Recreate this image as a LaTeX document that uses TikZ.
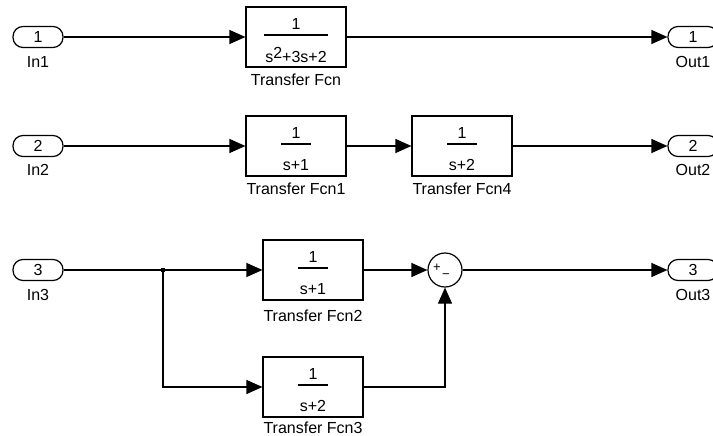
\documentclass[tikz,border=0pt]{standalone}
\usepackage{fontspec}
\setmainfont{Liberation Sans}
\usetikzlibrary{arrows.meta}
\begin{document}
\begin{tikzpicture}[x=1pt,y=-1pt,
  port/.style={draw, rounded corners=10pt, minimum width=50pt, minimum height=21pt, inner sep=0pt, line width=1.2pt, font=\fontsize{16}{18}\selectfont},
  tf/.style={draw, minimum width=100pt, minimum height=60pt, inner sep=0pt, line width=1.2pt},
  lbl/.style={inner sep=0pt, font=\fontsize{16}{18}\selectfont},
  frac/.style={inner sep=1.5pt, font=\fontsize{16}{18}\selectfont},
  sumc/.style={draw, circle, minimum size=34pt, inner sep=0pt, line width=1.2pt},
  sig/.style={line width=1.2pt, -{Triangle[length=16pt,width=14pt]}},
  wire/.style={line width=1.2pt}]
\useasboundingbox (0,0) rectangle (713,436);
\clip (0,0) rectangle (713,436);
% row 1
\node[port] (in1) at (38,37) {1};
\node[lbl] (in1l) at (38,62) {In1};
\node[tf] (t1) at (296,37) {};
\node[frac] (t1n) at (296,24) {1};
\node[frac] (t1d) at (296,55) {s\raisebox{0.45ex}{2}+3s+2};
\draw[wire] (t1d.west |- 0,35) -- (t1d.east |- 0,35);
\node[lbl] (t1l) at (296,80) {Transfer Fcn};
\node[port] (out1) at (693,37) {1};
\node[lbl] (out1l) at (693,62) {Out1};
\draw[sig] (in1) -- (t1);
\draw[sig] (t1) -- (out1);
% row 2
\node[port] (in2) at (38,146) {2};
\node[lbl] (in2l) at (38,170) {In2};
\node[tf] (t2) at (296,146) {};
\node[frac] (t2n) at (296,133) {1};
\node[frac] (t2d) at (296,165) {s+1};
\draw[wire] (t2d.west |- 0,144) -- (t2d.east |- 0,144);
\node[lbl] (t2l) at (296,189) {Transfer Fcn1};
\node[tf] (t4) at (462,146) {};
\node[frac] (t4n) at (462,133) {1};
\node[frac] (t4d) at (462,165) {s+2};
\draw[wire] (t4d.west |- 0,144) -- (t4d.east |- 0,144);
\node[lbl] (t4l) at (462,189) {Transfer Fcn4};
\node[port] (out2) at (693,146) {2};
\node[lbl] (out2l) at (693,170) {Out2};
\draw[sig] (in2) -- (t2);
\draw[sig] (t2) -- (t4);
\draw[sig] (t4) -- (out2);
% row 3
\node[port] (in3) at (38,270) {3};
\node[lbl] (in3l) at (38,295) {In3};
\coordinate (br) at (163,270);
\node[tf] (t5) at (313,270) {};
\node[frac] (t5n) at (313,257) {1};
\node[frac] (t5d) at (313,289) {s+1};
\draw[wire] (t5d.west |- 0,268) -- (t5d.east |- 0,268);
\node[lbl] (t5l) at (313,316) {Transfer Fcn2};
\node[tf] (t3) at (313,387) {};
\node[frac] (t3n) at (313,374) {1};
\node[frac] (t3d) at (313,406) {s+2};
\draw[wire] (t3d.west |- 0,385) -- (t3d.east |- 0,385);
\node[lbl] (t3l) at (313,428) {Transfer Fcn3};
\node[sumc] (sum) at (445,270) {};
\node[inner sep=0pt, font=\fontsize{13}{14}\selectfont] (sp) at (437,268) {+};
\node[inner sep=0pt, font=\fontsize{13}{14}\selectfont] (sm) at (446,276) {−};
\node[port] (out3) at (693,270) {3};
\node[lbl] (out3l) at (693,295) {Out3};
\draw[wire] (in3) -- (br);
\fill (br) +(-2,-2) rectangle +(2,2);
\draw[sig] (br) -- (t5);
\draw[sig] (br) |- (t3);
\draw[sig] (t5) -- (sum);
\draw[sig] (t3) -| (sum);
\draw[sig] (sum) -- (out3);
\end{tikzpicture}
\end{document}
